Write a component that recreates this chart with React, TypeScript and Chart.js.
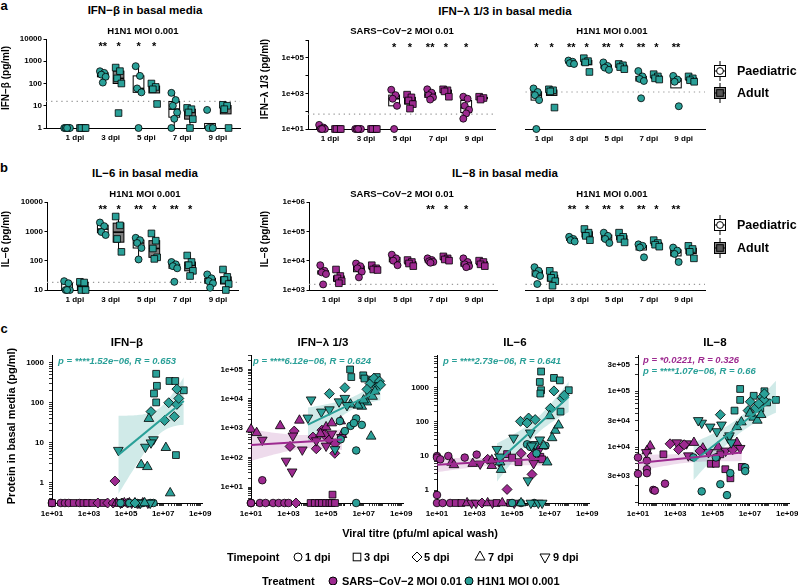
import React, { useEffect, useRef } from 'react';
import { Chart, registerables } from 'chart.js';

Chart.register(...registerables);

const FONT = '"Liberation Sans", Arial, Helvetica, sans-serif';
Chart.defaults.font.family = FONT;
Chart.defaults.color = '#000';

const PURPLE = '#9d2a90';
const TEAL = '#2aa098';
const PURPLE_BAND = 'rgba(157, 42, 144, 0.17)';
const TEAL_BAND = 'rgba(42, 160, 152, 0.22)';
const ADULT_FILL = '#808080';

// ===================== DATA =====================
const dpiLabels = ['1 dpi', '3 dpi', '5 dpi', '7 dpi', '9 dpi'];

// a — IFN-β, H1N1 MOI 0.001 (pg/ml); one list per timepoint
const ifnbPaed = [[1, 1, 1, 1, 1], [355, 300, 250, 200, 110], [600, 220, 60, 40, 1], [38, 18, 10, 5, 2.6, 1], [6.5, 1, 1, 1]];
const ifnbAdult = [[1, 1, 1, 1], [520, 360, 170, 100, 4.7], [100, 70, 55, 12], [8, 7, 5, 2.5, 1], [11, 10, 7, 1]];
const ifnbLod = 15.6;
const ifnbStars: [number, number, string][] = [[2, 0, '**'], [2, 1, '*'], [3, 0, '*'], [3, 1, '*']];

// a — IFN-λ 1/3, SARS-CoV-2 MOI 0.01
const ifnlSarsPaed = [[17, 12, 10, 10, 10], [10, 10, 10, 10, 10], [1600, 800, 500, 200, 10], [1700, 1100, 800, 600, 450], [650, 500, 200, 120, 75, 38]];
const ifnlSarsAdult = [[10, 10, 10, 10], [10, 10, 10, 10], [850, 600, 400, 250, 140], [1700, 1500, 1300, 650], [650, 550, 450]];
const ifnlSarsLod = 68;
const ifnlSarsStars: [number, number, string][] = [[3, 0, '*'], [3, 1, '*'], [4, 0, '**'], [4, 1, '*'], [5, 0, '*']];

// a — IFN-λ 1/3, H1N1 MOI 0.001
const ifnlH1Paed = [[1900, 1200, 800, 420, 10], [70000, 60000, 50000, 45000], [55000, 35000, 28000, 21000], [18000, 9000, 6500, 5000, 530], [9600, 6000, 4500, 190]];
const ifnlH1Adult = [[1700, 1500, 1300, 160], [95000, 65000, 55000, 16000], [45000, 38000, 30000, 23000], [12000, 9000, 7000, 6000], [9000, 7000, 5500, 4500]];
const ifnlH1Lod = 1200;
const ifnlH1Stars: [number, number, string][] = [[1, 0, '*'], [1, 1, '*'], [2, 0, '**'], [2, 1, '*'], [3, 0, '**'], [3, 1, '*'], [4, 0, '**'], [4, 1, '*'], [5, 0, '**']];

// b — IL-6, H1N1 MOI 0.001
const il6Paed = [[20, 17, 10, 10, 10], [2000, 1500, 950, 750], [600, 500, 400, 270, 110], [90, 75, 65, 55, 19], [34, 25, 20, 17, 12]];
const il6Adult = [[19, 18, 10, 10], [3200, 1600, 550, 200], [850, 480, 260, 130, 115], [150, 90, 70, 45, 30], [50, 28, 22, 16, 10]];
const il6Lod = 18.3;
const il6Stars: [number, number, string][] = [[2, 0, '**'], [2, 1, '*'], [3, 0, '**'], [3, 1, '*'], [4, 0, '**'], [4, 1, '*']];

// b — IL-8, SARS-CoV-2 MOI 0.01
const il8SarsPaed = [[7000, 4500, 4000, 3500, 1550], [8000, 6500, 5500, 4200, 2700], [16000, 12000, 10000, 7000], [12000, 10500, 9500, 9000, 8500], [12000, 9000, 7500, 6500, 6000]];
const il8SarsAdult = [[5000, 3000, 2500, 2000, 1700], [7000, 5500, 5000, 4800], [10500, 9000, 8000, 6500], [14000, 12000, 11000, 10000], [10000, 9000, 7500, 6500]];
const il8Lod = 1560;
const il8SarsStars: [number, number, string][] = [[4, 0, '**'], [4, 1, '*'], [5, 0, '*']];

// b — IL-8, H1N1 MOI 0.001
const il8H1Paed = [[6000, 4500, 3500, 3000, 1600], [65000, 55000, 50000, 45000], [90000, 70000, 55000, 40000], [36000, 32000, 28000, 13000], [28000, 22000, 17000, 9000]];
const il8H1Adult = [[4500, 3200, 2600, 2000, 1400], [120000, 90000, 70000, 50000], [90000, 65000, 55000, 42000], [50000, 40000, 35000, 30000], [32000, 25000, 20000, 12000]];
const il8H1Stars: [number, number, string][] = [[2, 0, '**'], [2, 1, '*'], [3, 0, '**'], [3, 1, '*'], [4, 0, '**'], [4, 1, '*'], [5, 0, '**']];

// c — [viral titre (pfu/ml), protein (pg/ml), dpi]; 0 = below detection
const ifnbSarsXY: [number, number, number][] = [
  [0, 0, 1], [0, 0, 1], [0, 0, 3], [30, 0, 1], [50, 0, 1], [80, 0, 1], [150, 0, 3], [300, 0, 1], [500, 0, 3], [800, 0, 3],
  [1500, 0, 3], [3000, 0, 5], [6000, 0, 3], [1e4, 0, 5], [2e4, 0, 5], [3e4, 0, 7], [5e4, 0, 9], [8e4, 0, 7], [1.2e5, 0, 5],
  [2e5, 0, 9], [3e5, 0, 7], [5e5, 0, 9], [8e5, 0, 7], [1.5e6, 0, 9], [2.5e4, 1.1, 5], [4e4, 0, 3], [6e4, 0, 5], [1.5e5, 0, 7], [4e5, 0, 9],
];
const ifnbH1XY: [number, number, number][] = [
  [5e4, 0, 1], [1.5e5, 0, 1], [4e5, 0, 1], [8e5, 0, 1], [2e6, 0, 1], [3e6, 0, 1], [6e5, 0, 9], [2e6, 0, 9], [1e6, 0, 7], [3e5, 0, 5],
  [4.2e6, 530, 3], [4.6e6, 265, 3], [3.2e6, 170, 3], [4.2e6, 102, 3], [2.2e7, 350, 3], [4.5e7, 350, 3], [1.3e8, 205, 3], [4.9e7, 4.9, 3],
  [2e7, 100, 5], [5.5e7, 91, 5], [7e7, 128, 5], [5.5e7, 220, 5], [1.2e7, 36, 5], [4e7, 45, 5], [2.2e6, 60, 5],
  [1.7e6, 40, 7], [1.4e7, 7.5, 7], [6.5e5, 2.8, 7], [1.4e6, 2.5, 7], [2.4e7, 0.55, 7],
  [3.8e4, 6.5, 9], [1.1e6, 7.8, 9], [3e6, 12, 9], [2.2e6, 10, 9],
];
const ifnlSarsXY: [number, number, number][] = [
  [0, 0, 1], [0, 0, 1], [0, 0, 1], [30, 0, 1], [60, 0, 1], [150, 0, 1], [300, 0, 1], [600, 0, 1], [1000, 0, 1], [40, 17, 1],
  [1.5e4, 0, 3], [2.5e4, 0, 3], [4e4, 0, 3], [6e4, 0, 3], [1e5, 0, 3], [1.5e5, 0, 3], [2e5, 0, 3], [3e5, 0, 3], [2.2e5, 5.5, 3],
  [2.5e3, 0, 5], [1.2e3, 240, 5], [3e4, 200, 5], [2.9e5, 140, 5], [6e4, 860, 5], [2e4, 500, 5], [1.5e5, 400, 5], [8e4, 600, 5], [3e5, 300, 5], [2e3, 800, 5],
  [0, 920, 7], [20, 700, 7], [360, 1200, 7], [3.8e3, 1850, 7], [6e5, 1750, 7], [1e5, 1100, 7], [2e5, 1500, 7], [5e4, 650, 7], [7e5, 600, 7],
  [40, 400, 9], [1.7e3, 550, 9], [740, 77, 9], [1.55e3, 33, 9], [5.4e3, 185, 9], [6.6e5, 490, 9], [3e4, 380, 9], [1e5, 250, 9], [2e5, 650, 9],
];
const ifnlH1XY: [number, number, number][] = [
  [5.4e5, 1750, 1], [4e6, 2150, 1], [4e6, 175, 1], [2e6, 1200, 1], [1e6, 800, 1], [3e6, 1500, 1], [6e5, 420, 1], [8e6, 1300, 1], [4e6, 0, 1],
  [1.9e6, 1e5, 3], [2.2e6, 55000, 3], [9.5e6, 63000, 3], [1.1e7, 49000, 3], [5e7, 55000, 3], [2.7e7, 45000, 3], [3.3e7, 36000, 3], [6e7, 30000, 3], [2e7, 16000, 3],
  [1.5e5, 15000, 5], [1e6, 24000, 5], [2.2e7, 33000, 5], [3.5e7, 50000, 5], [7e7, 40000, 5], [5e7, 25000, 5], [8e7, 30000, 5], [1.5e7, 21000, 5],
  [1.5e7, 7700, 7], [8e6, 5500, 7], [5e6, 6000, 7], [1e7, 9000, 7], [3e7, 12000, 7], [4e7, 18000, 7], [2e6, 6500, 7], [2.5e7, 530, 7],
  [1.6e4, 9300, 9], [5.6e4, 3600, 9], [1.5e5, 4300, 9], [4.9e5, 8000, 9], [1e6, 10500, 9], [1.3e6, 6000, 9], [1.07e4, 2250, 9], [3e5, 190, 9],
];
const il6SarsXY: [number, number, number][] = [
  [0, 10, 1], [0, 0.72, 1], [40, 10, 1], [1300, 11, 1], [300, 9, 1], [0, 9, 1], [15, 8, 1],
  [0, 0, 1], [20, 0, 1], [50, 0, 1], [100, 0, 3], [200, 0, 3], [400, 0, 7], [700, 0, 9], [1200, 0, 9], [2500, 0, 5], [5000, 0, 7],
  [9000, 0, 9], [1.5e4, 0, 3], [3e4, 0, 7], [8e4, 0, 3], [1.3e5, 0, 9],
  [5.4e4, 11.4, 3], [2.2e5, 6.6, 3], [3.2e6, 9.5, 3], [4e6, 8, 3], [1e5, 9, 3],
  [5.4e4, 1.05, 5], [1.15e6, 10, 5], [1.15e6, 2.9, 5], [2.1e6, 16, 5], [5e3, 8, 5], [3e5, 12, 5],
  [60, 6.5, 7], [8300, 5.2, 7], [8300, 7.6, 7], [800, 6, 7], [80, 5.5, 7],
  [2000, 5.9, 9], [1.4e6, 6.1, 9], [2.5e6, 14, 9], [2e4, 7, 9],
];
const il6H1XY: [number, number, number][] = [
  [6.3e5, 22, 1], [9.3e5, 18.5, 1], [6e6, 20, 1], [2e6, 12, 1], [1.5e6, 0, 1], [3e5, 0, 1], [1e5, 0, 1],
  [3.5e6, 3000, 3], [3e6, 1480, 3], [3.5e6, 850, 3], [3.2e6, 680, 3], [1.7e7, 1950, 3], [3.5e7, 1650, 3], [1.05e8, 850, 3], [3.8e7, 200, 3],
  [1.7e7, 810, 5], [1.1e7, 250, 5], [7.6e5, 130, 5], [1.7e6, 117, 5], [4.7e7, 490, 5], [6e7, 600, 5], [2.8e5, 104, 5], [6.3e5, 93, 5],
  [2e7, 56, 7], [1.35e7, 34, 7], [4.8e6, 20, 7], [7.4e6, 6.6, 7], [2.3e4, 6.6, 7], [2.6e4, 4, 7], [1e7, 150, 7], [3e7, 80, 7], [3e5, 0, 7],
  [1.55e4, 15.8, 9], [1.2e5, 34, 9], [2.1e4, 9.5, 9], [9.3e5, 48, 9], [1.7e6, 22, 9], [1.1e6, 20, 9], [7e5, 1.9, 9], [3e6, 30, 9],
  [1e6, 0, 9], [2.5e6, 0, 9], [4e6, 0, 9],
];
const il8SarsXY: [number, number, number][] = [
  [0, 6500, 1], [0, 3300, 1], [30, 5700, 1], [30, 4000, 1], [30, 3400, 1], [66, 1700, 1], [80, 1650, 1], [280, 2200, 1], [1.7e5, 6500, 1],
  [45, 10400, 7], [30, 8500, 7], [1e4, 12000, 7], [3e4, 9500, 7], [2e5, 10000, 7], [2e6, 12000, 7],
  [28, 8000, 9], [1200, 12000, 9], [4000, 11500, 9], [5e3, 7000, 9], [6e4, 8000, 9], [5e5, 8500, 9], [3e6, 9500, 9],
  [525, 11400, 5], [3000, 11000, 5], [2.1e4, 8500, 5], [1.5e3, 9000, 5], [1.2e6, 9000, 5],
  [230, 7400, 3], [8e4, 5000, 3], [1.5e5, 5000, 3], [4.8e5, 4000, 3], [9e5, 2750, 3], [3.7e6, 4400, 3], [2.6e5, 7400, 3],
];
const il8H1XY: [number, number, number][] = [
  [2.6e4, 1600, 1], [2.6e5, 2150, 1], [5.9e5, 1370, 1], [8.9e5, 3400, 1], [5.6e6, 4300, 1], [5.6e6, 3700, 1], [9.3e3, 6500, 1], [1.5e5, 6500, 1],
  [3e6, 110000, 3], [3e6, 70000, 3], [1.6e7, 83000, 3], [3.6e7, 49000, 3], [8.3e7, 63000, 3], [1.5e6, 45000, 3], [2.5e8, 70000, 3], [6e7, 100000, 3],
  [2.6e5, 38000, 5], [1.05e7, 65000, 5], [4.5e7, 79000, 5], [5.5e7, 70000, 5], [2e7, 50000, 5], [8e6, 45000, 5], [3e7, 60000, 5], [6e7, 90000, 5],
  [1.6e7, 34000, 7], [2e6, 23000, 7], [2.5e7, 30000, 7], [1e7, 40000, 7], [3.5e6, 28000, 7], [4e7, 38000, 7],
  [2.6e4, 27000, 9], [7.4e4, 23000, 9], [1.7e4, 30000, 9], [1.7e5, 19000, 9], [7e5, 14500, 9], [8e5, 16000, 9], [3e5, 25000, 9], [1e6, 12000, 9],
];

const xTickLabelVals = [1e1, 1e3, 1e5, 1e7, 1e9];

// ===================== HELPERS =====================
const tickFont = { family: FONT, size: 8, weight: 'bold' as const };
const BOX_W = 0.3;
const GROUP_OFF = [-0.22, 0.22];
const jitter = (i: number) => ((((i * 3) % 5) / 4) - 0.5) * 0.16;
const near = (a: number, b: number) => Math.abs(a / b - 1) < 1e-6;

function quant(s: number[], p: number) {
  const h = (s.length - 1) * p;
  const lo = Math.floor(h);
  const hi = Math.ceil(h);
  return s[lo] + (h - lo) * (s[hi] - s[lo]);
}
function boxStats(vals: number[]) {
  const l = vals.map((v) => Math.log10(v)).sort((a, b) => a - b);
  const q1 = quant(l, 0.25), med = quant(l, 0.5), q3 = quant(l, 0.75);
  const iqr = q3 - q1;
  const lo = Math.min(...l.filter((v) => v >= q1 - 1.5 * iqr));
  const hi = Math.max(...l.filter((v) => v <= q3 + 1.5 * iqr));
  return { q1: 10 ** q1, med: 10 ** med, q3: 10 ** q3, lo: 10 ** lo, hi: 10 ** hi };
}
function fmtE(v: number) {
  const e = Math.floor(Math.log10(v) + 1e-9);
  const m = Math.round(v / Math.pow(10, e));
  return `${m}e${e < 0 ? '-' : '+'}${String(Math.abs(e)).padStart(2, '0')}`;
}
function logTicks(min: number, max: number) {
  const out: number[] = [];
  for (let e = Math.floor(Math.log10(min)); e <= Math.ceil(Math.log10(max)); e++) {
    for (let m = 1; m <= 9; m++) {
      const v = parseFloat((m * Math.pow(10, e)).toPrecision(8));
      if (v >= min * 0.9999 && v <= max * 1.0001) out.push(v);
    }
  }
  return out;
}
function fitLog(pts: [number, number, number][], xFloor: number) {
  const P = pts.filter((p) => p[1] > 0).map((p) => [Math.log10(p[0] > 0 ? p[0] : xFloor), Math.log10(p[1])]);
  const n = P.length;
  if (n < 3) return null;
  const mx = P.reduce((s, p) => s + p[0], 0) / n;
  const my = P.reduce((s, p) => s + p[1], 0) / n;
  let sxx = 0, sxy = 0;
  P.forEach((p) => { sxx += (p[0] - mx) ** 2; sxy += (p[0] - mx) * (p[1] - my); });
  const b = sxy / sxx;
  const a = my - b * mx;
  let sse = 0;
  P.forEach((p) => { sse += (p[1] - a - b * p[0]) ** 2; });
  const s = Math.sqrt(sse / (n - 2));
  const t = 1.96 + 2.4 / (n - 2);
  const xs = P.map((p) => p[0]);
  return { a, b, s, n, mx, sxx, t, x0: Math.min(...xs), x1: Math.max(...xs) };
}
function geomOf(area: number[], yW: number, xH: number, padT: number, padR: number) {
  const [l, t, r, b] = area;
  return { x: l - yW, y: t - padT, w: r - l + yW + padR, h: b - t + padT + xH };
}

// ===================== PANELS a / b =====================
const CAT_YW = 46, CAT_XH = 18, CAT_PT = 12, CAT_PR = 8;

const catPanels = [
  { area: [46, 39, 240, 128], xr: [0.19, 5.62], yr: [1, 1e4], yTicks: [1, 10, 100, 1000, 1e4], yLab: [1, 10, 100, 1000, 1e4], eFmt: false, showY: true, paed: ifnbPaed, adult: ifnbAdult, color: TEAL, lod: ifnbLod, stars: ifnbStars },
  { area: [308, 40, 495, 129], xr: [0.39, 5.58], yr: [10, 1e6], yTicks: [10, 100, 1e3, 1e4, 1e5, 1e6], yLab: [10, 1e3, 1e5], eFmt: true, showY: true, paed: ifnlSarsPaed, adult: ifnlSarsAdult, color: PURPLE, lod: ifnlSarsLod, stars: ifnlSarsStars },
  { area: [520, 40, 705, 129], xr: [0.47, 5.61], yr: [10, 1e6], yTicks: [10, 100, 1e3, 1e4, 1e5, 1e6], yLab: [], eFmt: true, showY: false, paed: ifnlH1Paed, adult: ifnlH1Adult, color: TEAL, lod: ifnlH1Lod, stars: ifnlH1Stars },
  { area: [47, 202, 238, 290], xr: [0.22, 5.56], yr: [10, 1e4], yTicks: [10, 100, 1000, 1e4], yLab: [10, 100, 1000, 1e4], eFmt: false, showY: true, paed: il6Paed, adult: il6Adult, color: TEAL, lod: il6Lod, stars: il6Stars },
  { area: [309, 202, 497, 290], xr: [0.385, 5.64], yr: [1e3, 1e6], yTicks: [1e3, 1e4, 1e5, 1e6], yLab: [1e3, 1e4, 1e5, 1e6], eFmt: true, showY: true, paed: il8SarsPaed, adult: il8SarsAdult, color: PURPLE, lod: il8Lod, stars: il8SarsStars },
  { area: [520, 202, 705, 290], xr: [0.44, 5.62], yr: [1e3, 1e6], yTicks: [1e3, 1e4, 1e5, 1e6], yLab: [], eFmt: true, showY: false, paed: il8H1Paed, adult: il8H1Adult, color: TEAL, lod: il8Lod, stars: il8H1Stars },
];

function zeroPad(s: any) {
  s.paddingLeft = 0; s.paddingRight = 0; s.paddingTop = 0; s.paddingBottom = 0;
}

function catConfig(p: any) {
  const pts = (groups: number[][], g: number) =>
    groups.flatMap((vals, ci) => vals.map((v, i) => ({ x: ci + 1 + GROUP_OFF[g] + jitter(i), y: v })));
  const boxes: any[] = [];
  p.paed.forEach((vals: number[], ci: number) => boxes.push({ pos: ci + 1 + GROUP_OFF[0], vals, fill: '#ffffff' }));
  p.adult.forEach((vals: number[], ci: number) => boxes.push({ pos: ci + 1 + GROUP_OFF[1], vals, fill: ADULT_FILL }));
  const extras = {
    id: 'catExtras',
    beforeDatasetsDraw(chart: any) {
      const { ctx, chartArea } = chart;
      const xs = chart.scales.x, ys = chart.scales.y;
      ctx.save();
      ctx.strokeStyle = '#9a9a9a';
      ctx.lineWidth = 1.2;
      ctx.setLineDash([1.3, 3.8]);
      const yl = ys.getPixelForValue(p.lod);
      ctx.beginPath(); ctx.moveTo(chartArea.left, yl); ctx.lineTo(chartArea.right, yl); ctx.stroke();
      ctx.setLineDash([]);
      for (const g of boxes) {
        const s = boxStats(g.vals);
        const xc = xs.getPixelForValue(g.pos);
        const hw = Math.abs(xs.getPixelForValue(g.pos + BOX_W / 2) - xc);
        const y1 = ys.getPixelForValue(s.q1), y3 = ys.getPixelForValue(s.q3), ym = ys.getPixelForValue(s.med);
        ctx.strokeStyle = '#000'; ctx.lineWidth = 1;
        ctx.beginPath();
        ctx.moveTo(xc, ys.getPixelForValue(s.lo)); ctx.lineTo(xc, y1);
        ctx.moveTo(xc, y3); ctx.lineTo(xc, ys.getPixelForValue(s.hi));
        ctx.stroke();
        ctx.fillStyle = g.fill;
        ctx.fillRect(xc - hw, y3, 2 * hw, y1 - y3);
        ctx.strokeRect(xc - hw, y3, 2 * hw, y1 - y3);
        ctx.lineWidth = 1.6;
        ctx.beginPath(); ctx.moveTo(xc - hw, ym); ctx.lineTo(xc + hw, ym); ctx.stroke();
      }
      ctx.restore();
    },
    afterDatasetsDraw(chart: any) {
      const { ctx, chartArea } = chart;
      const xs = chart.scales.x;
      ctx.save();
      ctx.fillStyle = '#000';
      ctx.font = `bold 11px ${FONT}`;
      ctx.textAlign = 'center';
      ctx.textBaseline = 'middle';
      for (const [ci, g, txt] of p.stars) {
        ctx.fillText(txt, xs.getPixelForValue(ci + GROUP_OFF[g]), chartArea.top + 8);
      }
      ctx.restore();
    },
  };
  return {
    type: 'scatter',
    data: {
      datasets: [
        { data: pts(p.paed, 0), pointStyle: 'circle', pointRadius: 3.5, backgroundColor: p.color, borderColor: '#000', borderWidth: 0.8, clip: false },
        { data: pts(p.adult, 1), pointStyle: 'rect', pointRadius: 4.7, backgroundColor: p.color, borderColor: '#000', borderWidth: 0.8, clip: false },
      ],
    },
    options: {
      animation: false,
      responsive: false,
      events: [],
      layout: { padding: { left: 0, top: CAT_PT, right: CAT_PR, bottom: 0 } },
      plugins: { legend: { display: false }, tooltip: { enabled: false } },
      scales: {
        x: {
          type: 'linear', min: p.xr[0], max: p.xr[1], bounds: 'data',
          border: { display: true, color: '#000', width: 1 },
          grid: { drawOnChartArea: false, drawTicks: false },
          ticks: { font: tickFont, color: '#000', padding: 5, autoSkip: false, maxRotation: 0, callback: (v: number) => dpiLabels[Math.round(v) - 1] ?? '' },
          afterBuildTicks: (s: any) => { s.ticks = dpiLabels.map((_, i) => ({ value: i + 1 })); },
          afterFit: (s: any) => { s.height = CAT_XH; zeroPad(s); },
        },
        y: {
          type: 'logarithmic', min: p.yr[0], max: p.yr[1], bounds: 'data', display: p.showY,
          border: { display: true, color: '#000', width: 1 },
          grid: { drawOnChartArea: false, drawTicks: true, tickLength: 2.5, tickColor: '#000', tickWidth: 1 },
          ticks: {
            font: tickFont, color: '#000', padding: 1.5, autoSkip: false,
            callback: (v: number) => (p.yLab.some((L: number) => near(v, L)) ? (p.eFmt ? fmtE(v) : String(v)) : ''),
          },
          afterBuildTicks: (s: any) => { s.ticks = p.yTicks.map((v: number) => ({ value: v })); },
          afterFit: (s: any) => { if (p.showY) s.width = CAT_YW; zeroPad(s); },
        },
      },
    },
    plugins: [extras],
  };
}

// ===================== PANELS c =====================
const SC_YW = 40, SC_XH = 24, SC_PT = 4, SC_PR = 10;
const X_MIN = 10, X_MAX = 1.25e9;

const scatPanels = [
  { area: [52, 353, 202, 503], yr: [0.31, 1530], yLab: [1, 10, 100, 1000], eFmt: false, sars: ifnbSarsXY, h1: ifnbH1XY },
  { area: [251, 353, 403, 503], yr: [2.86, 3e5], yLab: [1e1, 1e2, 1e3, 1e4, 1e5], eFmt: true, sars: ifnlSarsXY, h1: ifnlH1XY },
  { area: [437, 353, 589, 503], yr: [0.42, 8900], yLab: [1, 10, 100, 1000], eFmt: false, sars: il6SarsXY, h1: il6H1XY },
  { area: [638, 353, 789, 503], yr: [990, 4.4e5], yLab: [3e3, 1e4, 3e4, 1e5, 3e5], eFmt: true, sars: il8SarsXY, h1: il8H1XY },
];

const styleOf = (d: number) => (d === 1 ? 'circle' : d === 3 ? 'rect' : d === 5 ? 'rectRot' : 'triangle');
const radiusOf = (d: number) => (d === 1 ? 3.8 : d === 3 ? 4.8 : d === 5 ? 5 : 5.6);
const rotOf = (d: number) => (d === 9 ? 180 : 0);

function scatterConfig(p: any) {
  const datasets: any[] = [];
  const pointSets: any[] = [];
  const lineSets: any[] = [];
  const series = [
    { pts: p.sars as [number, number, number][], color: PURPLE, band: PURPLE_BAND },
    { pts: p.h1 as [number, number, number][], color: TEAL, band: TEAL_BAND },
  ];
  series.forEach((s, si) => {
    const f = fitLog(s.pts, X_MIN);
    if (f) {
      const upper: any[] = [], lower: any[] = [];
      const N = 40;
      for (let k = 0; k <= N; k++) {
        const lx = f.x0 + ((f.x1 - f.x0) * k) / N;
        const yh = f.a + f.b * lx;
        const w = f.t * f.s * Math.sqrt(1 / f.n + (lx - f.mx) ** 2 / f.sxx);
        upper.push({ x: 10 ** lx, y: 10 ** (yh + w) });
        lower.push({ x: 10 ** lx, y: 10 ** (yh - w) });
      }
      datasets.push({ type: 'line', data: upper, borderWidth: 0, borderColor: 'rgba(0,0,0,0)', pointRadius: 0, fill: '+1', backgroundColor: s.band, order: 10, tension: 0 });
      datasets.push({ type: 'line', data: lower, borderWidth: 0, borderColor: 'rgba(0,0,0,0)', pointRadius: 0, fill: false, order: 10, tension: 0 });
      lineSets.push({
        type: 'line',
        data: [{ x: 10 ** f.x0, y: 10 ** (f.a + f.b * f.x0) }, { x: 10 ** f.x1, y: 10 ** (f.a + f.b * f.x1) }],
        borderColor: s.color, borderWidth: 2, pointRadius: 0, fill: false, order: 1, tension: 0,
      });
    }
    pointSets.push({
      type: 'scatter',
      data: s.pts.map(([t, v]) => ({ x: t > 0 ? t : X_MIN, y: v > 0 ? v : p.yr[0] })),
      pointStyle: s.pts.map((q) => styleOf(q[2])),
      pointRadius: s.pts.map((q) => radiusOf(q[2])),
      pointRotation: s.pts.map((q) => rotOf(q[2])),
      backgroundColor: s.color,
      borderColor: '#000',
      borderWidth: 0.8,
      clip: false,
      order: 5 - si,
    });
  });
  datasets.push(...pointSets, ...lineSets);
  const yTickVals = logTicks(p.yr[0], p.yr[1]);
  const xTickVals = logTicks(X_MIN, X_MAX);
  return {
    type: 'scatter',
    data: { datasets },
    options: {
      animation: false,
      responsive: false,
      events: [],
      layout: { padding: { left: 0, top: SC_PT, right: SC_PR, bottom: 0 } },
      plugins: { legend: { display: false }, tooltip: { enabled: false } },
      scales: {
        x: {
          type: 'logarithmic', min: X_MIN, max: X_MAX, bounds: 'data',
          border: { display: true, color: '#000', width: 1 },
          grid: { drawOnChartArea: false, drawTicks: true, tickLength: 3, tickColor: '#000', tickWidth: 0.8 },
          ticks: {
            font: tickFont, color: '#000', padding: 3, autoSkip: false, maxRotation: 0,
            callback: (v: number) => (xTickLabelVals.some((L) => near(v, L)) ? fmtE(v) : ''),
          },
          afterBuildTicks: (s: any) => { s.ticks = xTickVals.map((v) => ({ value: v })); },
          afterFit: (s: any) => { s.height = SC_XH; zeroPad(s); },
        },
        y: {
          type: 'logarithmic', min: p.yr[0], max: p.yr[1], bounds: 'data',
          border: { display: true, color: '#000', width: 1 },
          grid: { drawOnChartArea: false, drawTicks: true, tickLength: 3, tickColor: '#000', tickWidth: 0.8 },
          ticks: {
            font: tickFont, color: '#000', padding: 5, autoSkip: false,
            callback: (v: number) => (p.yLab.some((L: number) => near(v, L)) ? (p.eFmt ? fmtE(v) : String(v)) : ''),
          },
          afterBuildTicks: (s: any) => { s.ticks = yTickVals.map((v) => ({ value: v })); },
          afterFit: (s: any) => { s.width = SC_YW; zeroPad(s); },
        },
      },
    },
  };
}

// ===================== COMPONENTS =====================
function ChartPanel({ geom, build }: any) {
  const ref = useRef<HTMLCanvasElement>(null);
  useEffect(() => {
    const chart = new Chart(ref.current as HTMLCanvasElement, build());
    return () => chart.destroy();
  }, []);
  return (
    <canvas
      ref={ref}
      width={geom.w}
      height={geom.h}
      style={{ position: 'absolute', left: geom.x, top: geom.y, width: geom.w, height: geom.h }}
    />
  );
}

function Txt({ x, y, s, children, c = '#000', left = false, rot = false, italic = false }: any) {
  return (
    <div
      style={{
        position: 'absolute', left: x, top: y,
        transform: `translate(${left ? '0' : '-50%'}, -50%)${rot ? ' rotate(-90deg)' : ''}`,
        fontSize: s, fontWeight: 'bold', fontStyle: italic ? 'italic' : 'normal', color: c,
        whiteSpace: 'nowrap', lineHeight: 1, fontFamily: FONT,
      }}
    >
      {children}
    </div>
  );
}

function BoxKey({ x, y, adult }: any) {
  return (
    <svg width={16} height={22} viewBox="-8 -11 16 22" style={{ position: 'absolute', left: x - 8, top: y - 11 }}>
      <line x1={0} y1={-10} x2={0} y2={10} stroke="#000" strokeWidth={1} />
      <rect x={-5.5} y={-5.5} width={11} height={11} fill={adult ? ADULT_FILL : '#fff'} stroke="#000" strokeWidth={1} />
      <line x1={-5.5} y1={0} x2={5.5} y2={0} stroke="#000" strokeWidth={1} />
      {adult ? (
        <rect x={-3.3} y={-3.3} width={6.6} height={6.6} fill="#555" stroke="#000" strokeWidth={1} />
      ) : (
        <circle r={3.4} fill="#fff" stroke="#000" strokeWidth={1} />
      )}
    </svg>
  );
}

function Shape({ x, y, kind, fill = '#fff' }: any) {
  const common = { fill, stroke: '#000', strokeWidth: 1 };
  return (
    <svg width={14} height={14} viewBox="-7 -7 14 14" style={{ position: 'absolute', left: x - 7, top: y - 7 }}>
      {kind === 'circle' && <circle r={4} {...common} />}
      {kind === 'square' && <rect x={-3.8} y={-3.8} width={7.6} height={7.6} {...common} />}
      {kind === 'diamond' && <polygon points="0,-5 5,0 0,5 -5,0" {...common} />}
      {kind === 'tri' && <polygon points="0,-5 5,4 -5,4" {...common} />}
      {kind === 'dtri' && <polygon points="0,5 5,-4 -5,-4" {...common} />}
    </svg>
  );
}

const corrTexts = [
  { x: 58, y: 361, c: TEAL, t: 'p = ****1.52e\u221206, R = 0.653' },
  { x: 253, y: 361, c: TEAL, t: 'p = ****6.12e\u221206, R = 0.624' },
  { x: 443, y: 361, c: TEAL, t: 'p = ****2.73e\u221206, R = 0.641' },
  { x: 643, y: 360, c: PURPLE, t: 'p = *0.0221, R = 0.326' },
  { x: 643, y: 370.5, c: TEAL, t: 'p = ****1.07e\u221206, R = 0.66' },
];

export default function App() {
  return (
    <div
      style={{
        position: 'absolute', left: 0, top: 0, width: 798, height: 585,
        background: '#fff', overflow: 'hidden', fontFamily: FONT, color: '#000',
      }}
    >
      {catPanels.map((p, i) => (
        <ChartPanel key={'cat' + i} geom={geomOf(p.area, p.showY ? CAT_YW : 0, CAT_XH, CAT_PT, CAT_PR)} build={() => catConfig(p)} />
      ))}
      {scatPanels.map((p, i) => (
        <ChartPanel key={'sc' + i} geom={geomOf(p.area, SC_YW, SC_XH, SC_PT, SC_PR)} build={() => scatterConfig(p)} />
      ))}

      {/* panel letters */}
      <Txt x={4} y={5} s={13}>a</Txt>
      <Txt x={4} y={167} s={13}>b</Txt>
      <Txt x={4} y={328} s={13}>c</Txt>

      {/* row a titles */}
      <Txt x={145} y={11} s={11.5}>IFN−β in basal media</Txt>
      <Txt x={143} y={31} s={9.5}>H1N1 MOI 0.001</Txt>
      <Txt x={505} y={12} s={11.5}>IFN−λ 1/3 in basal media</Txt>
      <Txt x={402} y={31} s={9.5}>SARS−CoV−2 MOI 0.01</Txt>
      <Txt x={612} y={31} s={9.5}>H1N1 MOI 0.001</Txt>
      <Txt x={6} y={78} s={10} rot>IFN−β (pg/ml)</Txt>
      <Txt x={265} y={79} s={10} rot>IFN−λ 1/3 (pg/ml)</Txt>

      {/* row b titles */}
      <Txt x={145} y={174} s={11.5}>IL−6 in basal media</Txt>
      <Txt x={145} y={193.5} s={9.5}>H1N1 MOI 0.001</Txt>
      <Txt x={505} y={174} s={11.5}>IL−8 in basal media</Txt>
      <Txt x={402} y={193.5} s={9.5}>SARS−CoV−2 MOI 0.01</Txt>
      <Txt x={612} y={193.5} s={9.5}>H1N1 MOI 0.001</Txt>
      <Txt x={6} y={239} s={10} rot>IL−6 (pg/ml)</Txt>
      <Txt x={265} y={239} s={10} rot>IL−8 (pg/ml)</Txt>

      {/* a/b legends */}
      <BoxKey x={720} y={71} />
      <Txt x={737} y={71} s={12.5} left>Paediatric</Txt>
      <BoxKey x={720} y={93} adult />
      <Txt x={737} y={93} s={12.5} left>Adult</Txt>
      <BoxKey x={720} y={225} />
      <Txt x={737} y={225} s={12.5} left>Paediatric</Txt>
      <BoxKey x={720} y={248} adult />
      <Txt x={737} y={248} s={12.5} left>Adult</Txt>

      {/* row c titles */}
      <Txt x={127} y={343} s={11.5}>IFN−β</Txt>
      <Txt x={323} y={343} s={11.5}>IFN−λ 1/3</Txt>
      <Txt x={515} y={343} s={11.5}>IL−6</Txt>
      <Txt x={715} y={343} s={11.5}>IL−8</Txt>
      <Txt x={11} y={426} s={11} rot>Protein in basal media (pg/ml)</Txt>
      {corrTexts.map((c, i) => (
        <Txt key={'ct' + i} x={c.x} y={c.y} s={9.5} c={c.c} left italic>{c.t}</Txt>
      ))}
      <Txt x={420} y={533} s={11}>Viral titre (pfu/ml apical wash)</Txt>

      {/* c legends */}
      <Txt x={227} y={557} s={11} left>Timepoint</Txt>
      <Shape x={298} y={557} kind="circle" />
      <Txt x={305} y={557} s={11} left>1 dpi</Txt>
      <Shape x={357} y={557} kind="square" />
      <Txt x={364} y={557} s={11} left>3 dpi</Txt>
      <Shape x={416.5} y={557} kind="diamond" />
      <Txt x={424} y={557} s={11} left>5 dpi</Txt>
      <Shape x={480} y={556} kind="tri" />
      <Txt x={488} y={557} s={11} left>7 dpi</Txt>
      <Shape x={545} y={558} kind="dtri" />
      <Txt x={553} y={557} s={11} left>9 dpi</Txt>

      <Txt x={262} y={581} s={11} left>Treatment</Txt>
      <Shape x={333} y={581} kind="circle" fill={PURPLE} />
      <Txt x={342} y={581} s={11} left>SARS−CoV−2 MOI 0.01</Txt>
      <Shape x={469} y={581} kind="circle" fill={TEAL} />
      <Txt x={477} y={581} s={11} left>H1N1 MOI 0.001</Txt>
    </div>
  );
}
